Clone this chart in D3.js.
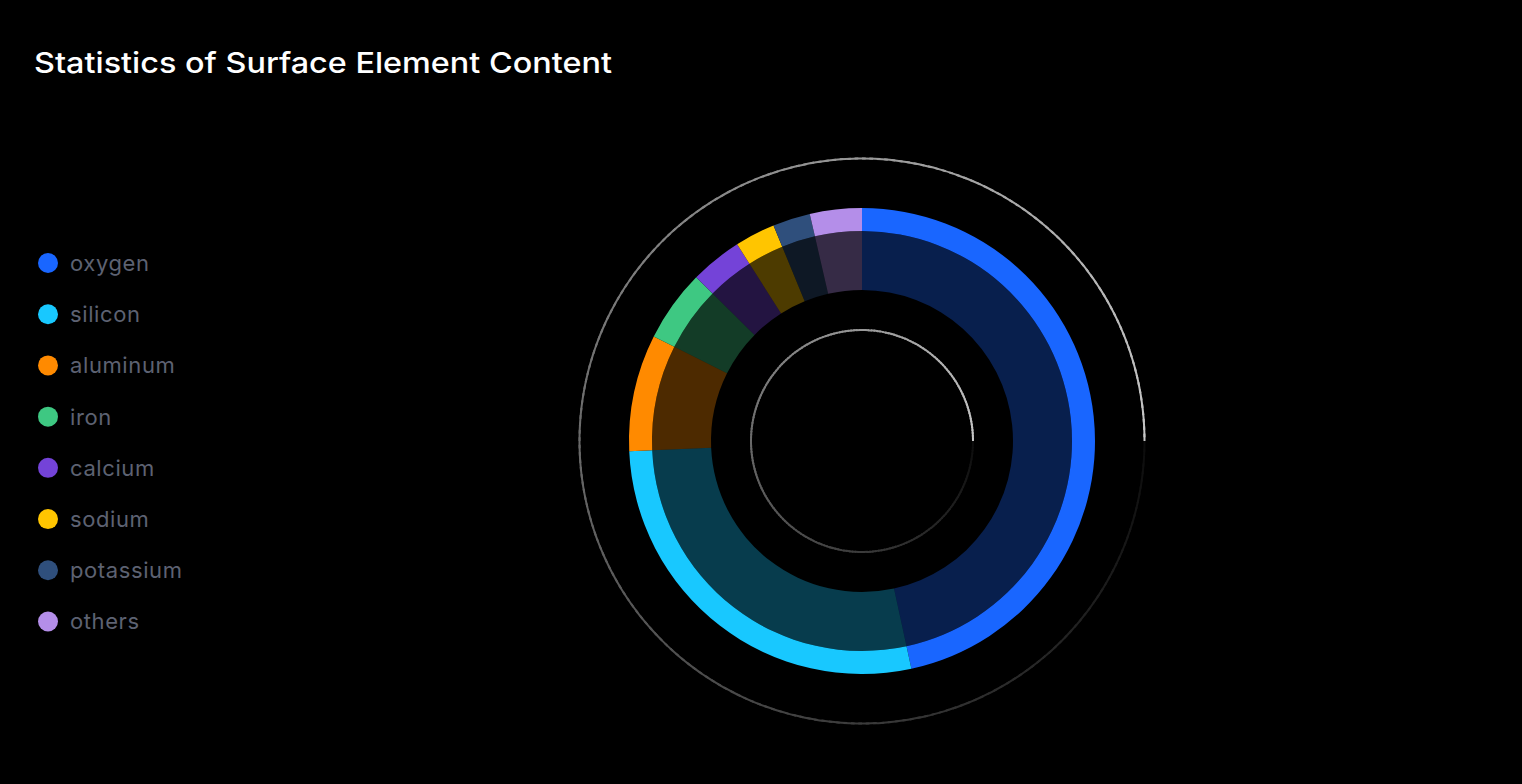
<!DOCTYPE html>
<html>
<head>
<meta charset="utf-8">
<script src="https://cdn.jsdelivr.net/npm/d3@7"></script>
<style>
html,body{margin:0;padding:0;background:#000;}
svg{display:block;}
</style>
</head>
<body>
<svg id="chart" width="1522" height="784"></svg>
<script>
const titleText = "Statistics of Surface Element Content";
const categories = ["oxygen","silicon","aluminum","iron","calcium","sodium","potassium","others"];
const values = [46.6, 27.7, 8.1, 5.0, 3.6, 2.8, 2.6, 3.6];
const colors = ["#1966ff","#18c8ff","#ff8a00","#3ec882","#7443d8","#ffc500","#2f4f7c","#b48ee9"];

const W = 1522, H = 784;
const svg = d3.select("#chart");
svg.append("rect").attr("width", W).attr("height", H).attr("fill", "#000");

svg.append("text")
  .attr("x", 34).attr("y", 73)
  .attr("fill", "#ffffff")
  .attr("font-family", "Inter, 'Noto Sans', sans-serif")
  .attr("font-size", 29)
  .attr("font-weight", 500)
  .attr("textLength", 578)
  .attr("lengthAdjust", "spacingAndGlyphs")
  .text(titleText);

// legend
const legend = svg.append("g");
const ly = d3.scalePoint().domain(categories).range([263, 621.5]);
categories.forEach((c, i) => {
  legend.append("circle").attr("cx", 48).attr("cy", ly(c)).attr("r", 10).attr("fill", colors[i]);
  legend.append("text").attr("x", 70).attr("y", ly(c)).attr("dy", "0.36em")
    .attr("fill", "#5d6272")
    .attr("font-family", "Inter, 'Noto Sans', sans-serif")
    .attr("font-size", 22)
    .attr("letter-spacing", 0.6)
    .attr("font-weight", 400)
    .text(c);
});

const cx = 862, cy = 441;
const g = svg.append("g").attr("transform", `translate(${cx},${cy})`);

// decorative fading circles (conic-like gradient, starting at 3 o'clock clockwise)
function fadeRing(r, w) {
  const n = 240;
  const gray = d3.interpolateRgb("#000000", "#d0d0d0");
  d3.range(n).forEach(k => {
    const t = k / n;
    const a0 = t * 2 * Math.PI;
    const a1 = Math.min((k + 1.5) / n, 1) * 2 * Math.PI;
    const p = d3.path();
    p.arc(0, 0, r, a0, a1);
    g.append("path")
      .attr("d", p.toString())
      .attr("fill", "none")
      .attr("stroke", gray(0.06 + 0.9 * t))
      .attr("stroke-width", w);
  });
}
fadeRing(282.5, 2);
fadeRing(111, 2);

const pie = d3.pie().sort(null).value(d => d);
const arcs = pie(values);

const innerArc = d3.arc().innerRadius(151).outerRadius(210);
const outerArc = d3.arc().innerRadius(210).outerRadius(233);

g.selectAll("path.inner").data(arcs).enter().append("path")
  .attr("class", "inner")
  .attr("d", innerArc)
  .attr("fill", (d, i) => colors[i])
  .attr("fill-opacity", 0.3);

g.selectAll("path.outer").data(arcs).enter().append("path")
  .attr("class", "outer")
  .attr("d", outerArc)
  .attr("fill", (d, i) => colors[i]);
</script>
</body>
</html>
